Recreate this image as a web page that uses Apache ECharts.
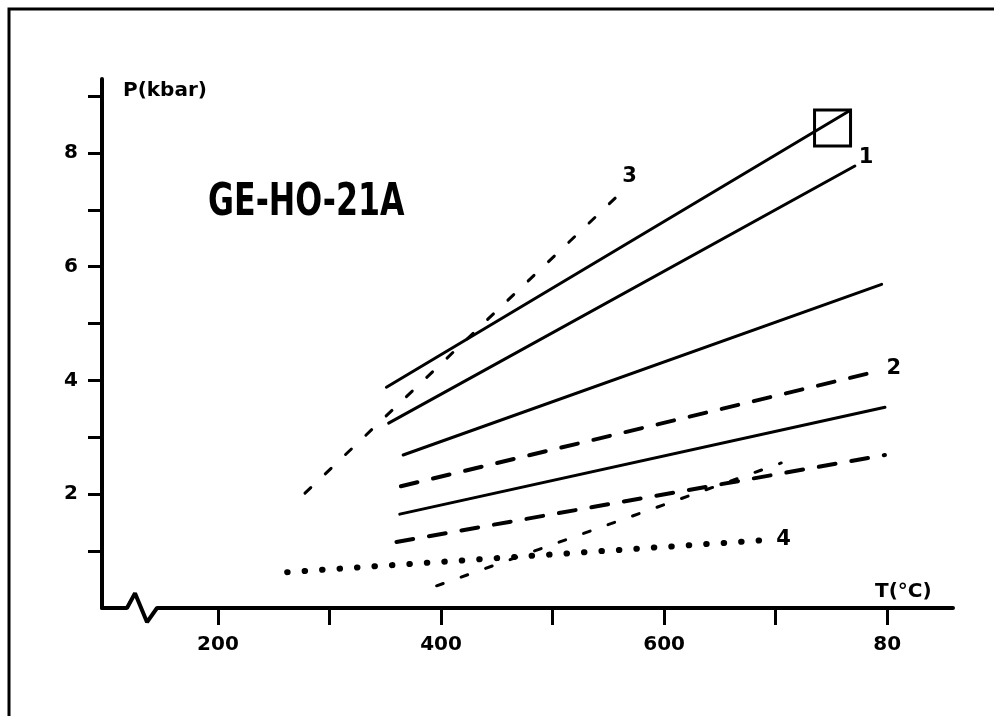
<!DOCTYPE html>
<html>
<head>
<meta charset="utf-8">
<script src="https://cdn.jsdelivr.net/npm/echarts@6/dist/echarts.min.js"></script>
<style>
  html, body { margin: 0; padding: 0; background: #fff; }
  #main { width: 994px; height: 716px; }
</style>
</head>
<body>
<div id="main"></div>
<script>
// T (°C) / P (kbar)
var solidA = [[351, 3.88], [767, 8.75]];   // top line ending in the square
var solid1 = [[353, 3.25], [771, 7.77]];
var solidC = [[366, 2.69], [795, 5.69]];
var solidD = [[363, 1.65], [798, 3.53]];
var dashed2 = [[364, 2.14], [793, 4.17]];
var dashedLow = [[360, 1.16], [798, 2.69]];
var fine3 = [[278, 2.02], [558, 7.24]];
var fineLow = [[396, 0.39], [705, 2.55]];
var dotted4 = [[262, 0.63], [696, 1.20]];
var squarePt = [[751, 8.44]];

var xTicks = [200, 300, 400, 500, 600, 700, 800];
var xLabels = [200, 400, 600, 800];
var yTicks = [1, 2, 3, 4, 5, 6, 7, 8, 9];
var yLabels = [2, 4, 6, 8];
// x axis baseline with the break zig-zag
var axisBreak = [[96, 0], [118.4, 0], [125.6, 0.26], [136.4, -0.25], [145.3, 0], [859, 0]];

var dom = document.getElementById("main");
var myChart = echarts.init(dom);
var font = "DejaVu Sans";

function lineSeries(data, type, width, label, offset) {
    var s = {
        type: 'line',
        data: data,
        symbol: 'none',
        silent: true,
        clip: false,
        lineStyle: { color: '#000', width: width, type: type, cap: 'round' }
    };
    if (label) {
        s.endLabel = {
            show: true,
            formatter: label,
            offset: offset,
            color: '#000',
            fontFamily: font,
            fontWeight: 'bold',
            fontSize: 21
        };
    }
    return s;
}

var option = {
    animation: false,
    backgroundColor: '#fff',
    grid: { left: 102, right: 41, top: 79, bottom: 108 },
    xAxis: {
        type: 'value',
        min: 96,
        max: 859,
        name: 'T(°C)',
        nameLocation: 'end',
        nameGap: -78,
        nameTextStyle: {
            color: '#000', fontFamily: font, fontWeight: 'bold', fontSize: 20,
            verticalAlign: 'bottom', padding: [0, 0, 6, 0]
        },
        axisLine: { show: false },
        splitLine: { show: false },
        axisTick: {
            show: true, customValues: xTicks, length: 17,
            lineStyle: { color: '#000', width: 3 }
        },
        axisLabel: {
            customValues: xLabels, margin: 27, color: '#000',
            fontFamily: font, fontWeight: 'bold', fontSize: 20,
            formatter: function (v) { return v === 800 ? '80' : String(v); }
        }
    },
    yAxis: {
        type: 'value',
        min: 0,
        max: 9.3,
        name: 'P(kbar)',
        nameLocation: 'end',
        nameGap: -22,
        nameTextStyle: {
            color: '#000', fontFamily: font, fontWeight: 'bold', fontSize: 20,
            align: 'left', padding: [0, 0, 0, 21]
        },
        axisLine: { show: true, lineStyle: { color: '#000', width: 4 } },
        splitLine: { show: false },
        axisTick: {
            show: true, customValues: yTicks, length: 14,
            lineStyle: { color: '#000', width: 3 }
        },
        axisLabel: {
            customValues: yLabels, margin: 24, color: '#000',
            fontFamily: font, fontWeight: 'bold', fontSize: 20
        }
    },
    graphic: [
        {
            type: 'polyline',
            shape: { points: [[9, 716], [9, 9], [994, 9]] },
            style: { stroke: '#000', lineWidth: 3, fill: null }
        },
        {
            type: 'text',
            x: 208, y: 182,
            scaleX: 0.72,
            style: {
                text: 'GE-HO-21A',
                font: 'bold 44px "DejaVu Sans"',
                fill: '#000',
                textVerticalAlign: 'top'
            }
        }
    ],
    series: [
        lineSeries(axisBreak, 'solid', 4),
        lineSeries(solidA, 'solid', 3),
        lineSeries(solid1, 'solid', 3, '1', [-4, -8]),
        lineSeries(solidC, 'solid', 3),
        lineSeries(solidD, 'solid', 3),
        lineSeries(dashed2, [17, 16], 4, '2', [-1, -2]),
        lineSeries(dashedLow, [17, 16], 4),
        lineSeries(fine3, [8, 20], 3, '3', [-3, -20]),
        lineSeries(fineLow, [7, 19], 3),
        lineSeries(dotted4, [0.5, 17], 6, '4', [-3, 0]),
        {
            type: 'scatter',
            data: squarePt,
            symbol: 'rect',
            symbolSize: 36,
            silent: true,
            itemStyle: { color: 'rgba(0,0,0,0)', borderColor: '#000', borderWidth: 3, opacity: 1 }
        }
    ]
};
myChart.setOption(option, true);
window.onresize = myChart.resize;
</script>
</body>
</html>
